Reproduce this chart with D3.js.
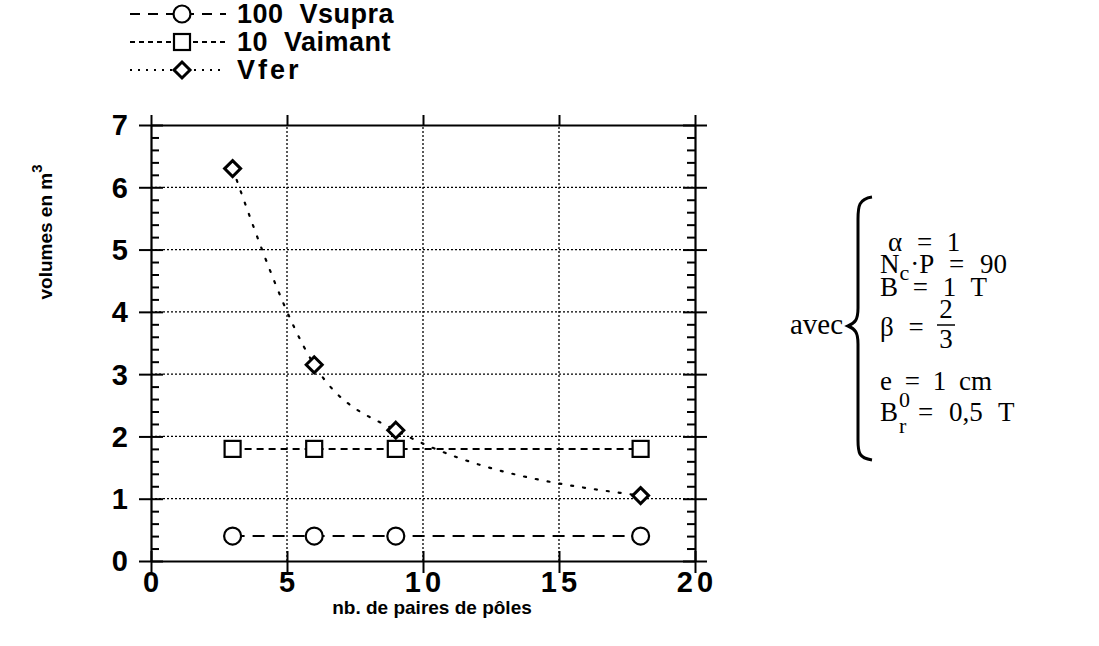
<!DOCTYPE html>
<html><head><meta charset="utf-8">
<script src="https://cdn.jsdelivr.net/npm/d3@7"></script>
<style>
body{margin:0;background:#fff;}
svg{display:block;}
</style></head>
<body>
<svg id="c" width="1099" height="646"></svg>
<script>
const xPairs = [3, 6, 9, 18];
const vSupra = [0.4, 0.4, 0.4, 0.4];
const vAimant = [1.8, 1.8, 1.8, 1.8];
const vFer = [6.3, 3.15, 2.1, 1.05];
const xTicks = [0, 5, 10, 15, 20];
const yTicks = [0, 1, 2, 3, 4, 5, 6, 7];
const legendLabels = ["100  Vsupra", "10  Vaimant", "Vfer"];

const svg = d3.select("#c");
const x = d3.scaleLinear().domain([0, 20]).range([151, 695]);
const y = d3.scaleLinear().domain([0, 7]).range([561, 125]);
const SANS = "'Liberation Sans', Arial, Helvetica, sans-serif";
const SERIF = "'Liberation Serif', 'Times New Roman', serif";

// grid
const g = svg.append("g");
g.selectAll(".gy").data(yTicks.slice(1, -1)).join("line")
  .attr("x1", x(0)).attr("x2", x(20)).attr("y1", d => y(d)).attr("y2", d => y(d))
  .attr("stroke", "#000").attr("stroke-width", 1.3).attr("stroke-dasharray", "2,2");
g.selectAll(".gx").data(xTicks.slice(1, -1)).join("line")
  .attr("y1", y(0)).attr("y2", y(7)).attr("x1", d => x(d)).attr("x2", d => x(d))
  .attr("stroke", "#000").attr("stroke-width", 1.3).attr("stroke-dasharray", "2,2");

// axes via d3
const minor = d3.range(0, 7.01, 0.2).filter(v => Math.abs(v - Math.round(v)) > 0.01);
function styleAxis(sel) {
  sel.selectAll("path").attr("stroke", "#000").attr("stroke-width", 2.2);
  sel.selectAll("line").attr("stroke", "#000").attr("stroke-width", 2);
}
function addAxis(ax, tx, ty, showPath) {
  const s = svg.append("g").attr("transform", `translate(${tx},${ty})`).call(ax.tickSizeOuter(0).tickFormat(""));
  styleAxis(s);
  if (!showPath) s.select("path").remove();
  return s;
}
addAxis(d3.axisLeft(y).tickValues(yTicks).tickSize(12), x(0), 0, true);
addAxis(d3.axisRight(y).tickValues(minor).tickSize(8), x(0), 0, false);
addAxis(d3.axisRight(y).tickValues(yTicks).tickSize(12), x(0), 0, false);
addAxis(d3.axisLeft(y).tickValues(minor).tickSize(8), x(20), 0, false);
addAxis(d3.axisRight(y).tickValues(yTicks).tickSize(12), x(20), 0, true);
addAxis(d3.axisLeft(y).tickValues(yTicks).tickSize(12), x(20), 0, false);
addAxis(d3.axisBottom(x).tickValues(xTicks).tickSize(12), 0, y(0), true);
addAxis(d3.axisTop(x).tickValues(xTicks).tickSize(10), 0, y(0), false);
addAxis(d3.axisTop(x).tickValues(xTicks).tickSize(10), 0, y(7), true);

// tick labels
svg.append("g").selectAll("text").data(yTicks).join("text")
  .attr("x", 128).attr("y", d => y(d)).attr("dy", "0.36em")
  .attr("text-anchor", "end").attr("font-family", SANS).attr("font-weight", "bold")
  .attr("font-size", 29).text(d => d);
svg.append("g").selectAll("text").data(xTicks).join("text")
  .attr("x", d => x(d) + (d >= 10 ? 2 : 0)).attr("y", 582).attr("dy", "0.36em")
  .attr("text-anchor", "middle").attr("font-family", SANS).attr("font-weight", "bold")
  .attr("font-size", 29).attr("letter-spacing", d => d >= 10 ? 4 : 0).text(d => d);

// axis titles
svg.append("text").attr("x", 432).attr("y", 614).attr("text-anchor", "middle")
  .attr("font-family", SANS).attr("font-weight", "bold").attr("font-size", 19)
  .text("nb. de paires de pôles");
const yt = svg.append("text").attr("transform", "translate(52,232) rotate(-90)")
  .attr("text-anchor", "middle").attr("font-family", SANS).attr("font-weight", "bold").attr("font-size", 19);
yt.append("tspan").text("volumes en m");
yt.append("tspan").attr("dy", -10).attr("font-size", 15).text("3");

// series
const supraPts = xPairs.map((d, i) => [d, vSupra[i]]);
const aimantPts = xPairs.map((d, i) => [d, vAimant[i]]);
const ferPts = xPairs.map((d, i) => [d, vFer[i]]);
const lineL = d3.line().x(d => x(d[0])).y(d => y(d[1]));
const curveL = d3.line().x(d => x(d[0])).y(d => y(d[1])).curve(d3.curveMonotoneX);

svg.append("path").attr("d", lineL(supraPts)).attr("fill", "none").attr("stroke", "#000")
  .attr("stroke-width", 2).attr("stroke-dasharray", "12,8");
svg.append("path").attr("d", lineL(aimantPts)).attr("fill", "none").attr("stroke", "#000")
  .attr("stroke-width", 2).attr("stroke-dasharray", "7,5");
svg.append("path").attr("d", curveL(ferPts)).attr("fill", "none").attr("stroke", "#000")
  .attr("stroke-width", 2.2).attr("stroke-dasharray", "2,10").attr("stroke-linecap", "round");

const sq = 16, cr = 8.5;
function circleM(sel, cx, cy) {
  sel.append("circle").attr("cx", cx).attr("cy", cy).attr("r", cr)
    .attr("fill", "#fff").attr("stroke", "#000").attr("stroke-width", 2.2);
}
function squareM(sel, cx, cy) {
  sel.append("rect").attr("x", cx - sq / 2).attr("y", cy - sq / 2).attr("width", sq).attr("height", sq)
    .attr("fill", "#fff").attr("stroke", "#000").attr("stroke-width", 2.2);
}
function diamondM(sel, cx, cy) {
  const r = 8;
  sel.append("path").attr("d", `M${cx},${cy - r}L${cx + r},${cy}L${cx},${cy + r}L${cx - r},${cy}Z`)
    .attr("fill", "#fff").attr("stroke", "#000").attr("stroke-width", 3);
}
const m = svg.append("g");
supraPts.forEach(p => circleM(m, x(p[0]), y(p[1])));
aimantPts.forEach(p => squareM(m, x(p[0]), y(p[1])));
ferPts.forEach(p => diamondM(m, x(p[0]), y(p[1])));

// legend
const lg = svg.append("g");
const ly = [14, 42, 70];
const dashes = ["10,8", "5,4", "2,6"];
const markers = [circleM, squareM, diamondM];
legendLabels.forEach((t, i) => {
  lg.append("line").attr("x1", 130).attr("x2", 226).attr("y1", ly[i]).attr("y2", ly[i])
    .attr("stroke", "#000").attr("stroke-width", 2).attr("stroke-dasharray", dashes[i]);
  markers[i](lg, 182, ly[i]);
  lg.append("text").attr("x", 237).attr("y", ly[i]).attr("dy", "0.35em")
    .attr("font-family", SANS).attr("font-weight", "bold").attr("font-size", 27)
    .attr("letter-spacing", i === 2 ? 3 : 0.5).style("white-space", "pre").text(t);
});

// annotation
const an = svg.append("g").attr("font-family", SERIF).attr("font-size", 27);
an.append("text").attr("x", 790).attr("y", 334).attr("font-size", 29).text("avec");
an.append("path")
  .attr("d", "M872,197 C859,199 858,206 858,219 L858,308 C858,320 855,323 848,326 C855,329 858,332 858,344 L858,440 C858,453 859,458 872,460")
  .attr("fill", "none").attr("stroke", "#000").attr("stroke-width", 3);
const lx = 880;
const ws = 8;
an.append("text").attr("x", lx + 8).attr("y", 251).attr("word-spacing", ws).text("α = 1");
const t2 = an.append("text").attr("x", lx).attr("y", 273).attr("word-spacing", 9);
t2.append("tspan").text("N");
t2.append("tspan").attr("dy", 7).attr("font-size", 22).text("c");
t2.append("tspan").attr("dy", -7).attr("dx", 1).text("·P = 90");
an.append("text").attr("x", lx).attr("y", 296).attr("word-spacing", ws).text("B = 1 T");
an.append("text").attr("x", lx).attr("y", 336).attr("word-spacing", ws).text("β =");
an.append("text").attr("x", lx + 66).attr("y", 318).attr("text-anchor", "middle").text("2");
an.append("line").attr("x1", lx + 57).attr("x2", lx + 75).attr("y1", 325).attr("y2", 325).attr("stroke", "#000").attr("stroke-width", 1.5);
an.append("text").attr("x", lx + 66).attr("y", 348).attr("text-anchor", "middle").text("3");
an.append("text").attr("x", lx).attr("y", 390).attr("word-spacing", 6).text("e = 1 cm");
an.append("text").attr("x", lx).attr("y", 421).text("B");
an.append("text").attr("x", lx + 19).attr("y", 433).attr("font-size", 22).text("r");
an.append("text").attr("x", lx + 19).attr("y", 407).attr("font-size", 22).text("0");
an.append("text").attr("x", lx + 38).attr("y", 421).attr("word-spacing", 9).text("= 0,5 T");
</script>
</body></html>
